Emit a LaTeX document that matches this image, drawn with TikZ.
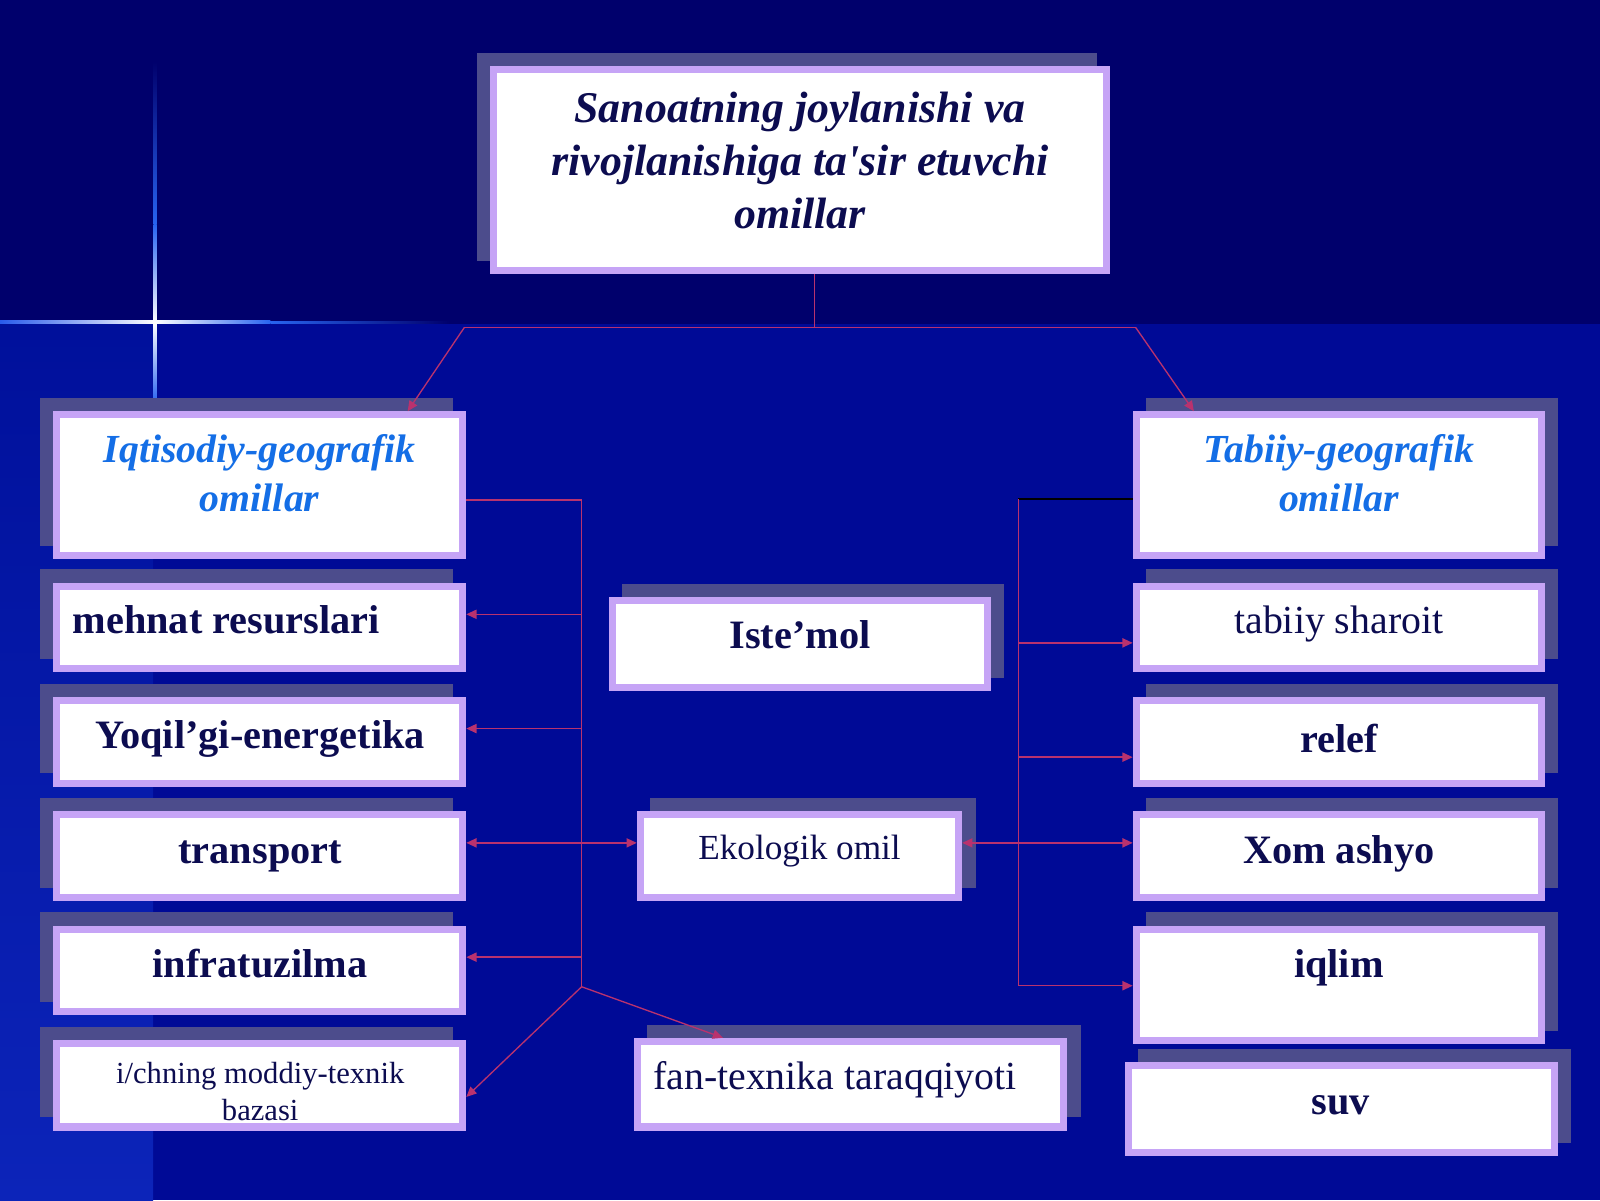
\documentclass[tikz,border=0pt]{standalone}
\usepackage{fontspec}
\setmainfont{Liberation Serif}[Ligatures=TeXOff]
\usetikzlibrary{shadows,arrows.meta}
\definecolor{topbg}{RGB}{0,0,108}
\definecolor{lowbg}{RGB}{0,10,150}
\definecolor{stripT}{RGB}{0,16,155}
\definecolor{stripB}{RGB}{12,36,185}
\definecolor{starA}{RGB}{40,90,235}
\definecolor{starB}{RGB}{40,100,240}
\definecolor{lilac}{RGB}{198,164,246}
\definecolor{shc}{RGB}{76,76,140}
\definecolor{navy}{RGB}{12,12,80}
\definecolor{headblue}{RGB}{20,110,230}
\definecolor{lnc}{RGB}{185,50,110}
\begin{document}
\begin{tikzpicture}[x=1pt,y=-1pt,
  bx/.style={draw=lilac, line width=7pt, fill=white, inner sep=0pt},
  shL/.style={general shadow={fill=shc, draw=shc, shadow xshift=-13pt, shadow yshift=13pt}},
  shR/.style={general shadow={fill=shc, draw=shc, shadow xshift=13pt, shadow yshift=13pt}},
  ttl/.style={font=\fontsize{43}{52}\selectfont\bfseries\itshape, text=navy, align=center, inner sep=0pt},
  head/.style={font=\fontsize{39}{48}\selectfont\bfseries\itshape, text=headblue, align=center, inner sep=0pt},
  bld/.style={font=\fontsize{39.5}{46}\selectfont\bfseries, text=navy, inner sep=0pt, anchor=base},
  reg/.style={font=\fontsize{39}{46}\selectfont, text=navy, inner sep=0pt, anchor=base},
  ln/.style={draw=lnc, line width=1.3pt},
  arr/.style={ln, -{Triangle[length=10pt,width=9pt]}},
  arrb/.style={ln, {Triangle[length=10pt,width=9pt]}-{Triangle[length=10pt,width=9pt]}}
]
% background
\fill[topbg] (0,0) rectangle (1568,318);
\fill[lowbg] (0,318) rectangle (1568,1176);
\shade[top color=stripT, bottom color=stripB] (0,318) rectangle (150,1176);
\useasboundingbox (0,0) rectangle (1568,1176);
% star
\shade[left color=starA, right color=white] (0,314.5) rectangle (152,317.5);
\shade[left color=white, right color=starB] (152,314.5) rectangle (265,317.5);
\shade[left color=starB, right color=topbg] (265,315) rectangle (440,317);
\shade[top color=topbg, bottom color=starB] (150.5,60) rectangle (153.5,220);
\shade[top color=starB, bottom color=white] (150.5,220) rectangle (153.5,316);
\shade[top color=white, bottom color=starB] (150.5,316) rectangle (153.5,395);

% boxes
\node[bx, shL, minimum width=601pt, minimum height=197pt] (title) at (784,167) {};
\node[bx, shL, minimum width=398pt, minimum height=138pt] (iq) at (254.5,475.5) {};
\node[bx, shL, minimum width=398pt, minimum height=81pt] (meh) at (254.5,615) {};
\node[bx, shL, minimum width=398pt, minimum height=81pt] (yoq) at (254.5,727) {};
\node[bx, shL, minimum width=398pt, minimum height=81pt] (tra) at (254.5,839) {};
\node[bx, shL, minimum width=398pt, minimum height=81pt] (inf) at (254.5,951) {};
\node[bx, shL, minimum width=398pt, minimum height=82pt] (ich) at (254.5,1063.5) {};
\node[bx, shR, minimum width=397pt, minimum height=138pt] (tab) at (1312,475.5) {};
\node[bx, shR, minimum width=397pt, minimum height=81pt] (tsh) at (1312,615) {};
\node[bx, shR, minimum width=397pt, minimum height=81pt] (rel) at (1312,727) {};
\node[bx, shR, minimum width=397pt, minimum height=81pt] (xom) at (1312,839) {};
\node[bx, shR, minimum width=397pt, minimum height=109pt] (iql) at (1312,965) {};
\node[bx, shR, minimum width=418pt, minimum height=85pt] (suv) at (1314.5,1087) {};
\node[bx, shR, minimum width=367pt, minimum height=85pt] (ist) at (784,631) {};
\node[bx, shR, minimum width=312pt, minimum height=81pt] (eko) at (783.5,839) {};
\node[bx, shR, minimum width=418pt, minimum height=84pt] (fan) at (833.5,1062.5) {};

% texts
\node[ttl] (ttitle) at (784,157.5) {Sanoatning joylanishi va\\rivojlanishiga ta'sir etuvchi\\omillar};
\node[head] (tiq) at (254.5,463.5) {Iqtisodiy-geografik\\omillar};
\node[head] (ttab) at (1312,463.5) {Tabiiy-geografik\\omillar};
\node[bld, anchor=base west] (tmeh) at (71,621) {mehnat resurslari};
\node[bld] (tyoq) at (255,734) {Yoqil’gi-energetika};
\node[bld] (ttra) at (255,846) {transport};
\node[bld] (tinf) at (255,958) {infratuzilma};
\node[font=\fontsize{30}{36}\selectfont, text=navy, align=center, inner sep=0pt] (tich) at (255,1069.5) {i/chning moddiy-texnik\\bazasi};
\node[reg] (ttsh) at (1312,621) {tabiiy sharoit};
\node[bld] (trel) at (1312,737) {relef};
\node[bld] (txom) at (1312,846) {Xom ashyo};
\node[bld] (tiql) at (1312,958) {iqlim};
\node[bld] (tsuv) at (1314,1092) {suv};
\node[bld] (tist) at (784,636) {Iste’mol};
\node[reg, font=\fontsize{34.5}{40}\selectfont] (teko) at (783.5,842) {Ekologik omil};
\node[reg, anchor=base west, font=\fontsize{39}{46}\selectfont] (tfan) at (640,1068) {fan-texnika taraqqiyoti};

% connectors
\coordinate (jT) at (798,321);
\coordinate (jL) at (455,321);
\coordinate (jR) at (1113,321);
\draw[ln] (title.south -| jT) -- (jT);
\draw[ln] (jL) -- (jR);
\draw[arr] (jL) -- ([xshift=145pt]iq.north);
\draw[arr] (jR) -- ([xshift=-142pt]tab.north);

\coordinate (bL1) at (570,490);
\coordinate (bL2) at (570,967);
\draw[ln] (iq.east |- bL1) -- (bL1) -- (bL2);
\coordinate (pM) at ([yshift=13pt]meh.east);
\coordinate (pY) at ([yshift=13pt]yoq.east);
\coordinate (pT) at ([yshift=13pt]tra.east);
\coordinate (pI) at ([yshift=13pt]inf.east);
\draw[arr] (pM -| bL1) -- (pM);
\draw[arr] (pY -| bL1) -- (pY);
\draw[arr] (pI -| bL1) -- (pI);
\draw[arrb] (pT) -- (pT -| eko.west);
\draw[arr] (bL2) -- ([yshift=-11.5pt]ich.east);
\draw[arr] (bL2) -- ([xshift=-125pt]fan.north);

\coordinate (bR1) at (998,489);
\coordinate (bR2) at (998,966);
\draw[line width=1.3pt, black] (tab.west |- bR1) -- (bR1);
\draw[ln] (bR1) -- (bR2);
\coordinate (pS) at ([yshift=-15pt]tsh.west);
\coordinate (pR) at ([yshift=-15pt]rel.west);
\coordinate (pX) at ([yshift=13pt]xom.west);
\draw[arr] (pS -| bR1) -- (pS);
\draw[arr] (pR -| bR1) -- (pR);
\draw[arrb] (eko.east |- pX) -- (pX);
\draw[arr] (bR2) -- (bR2 -| iql.west);
\end{tikzpicture}
\end{document}
